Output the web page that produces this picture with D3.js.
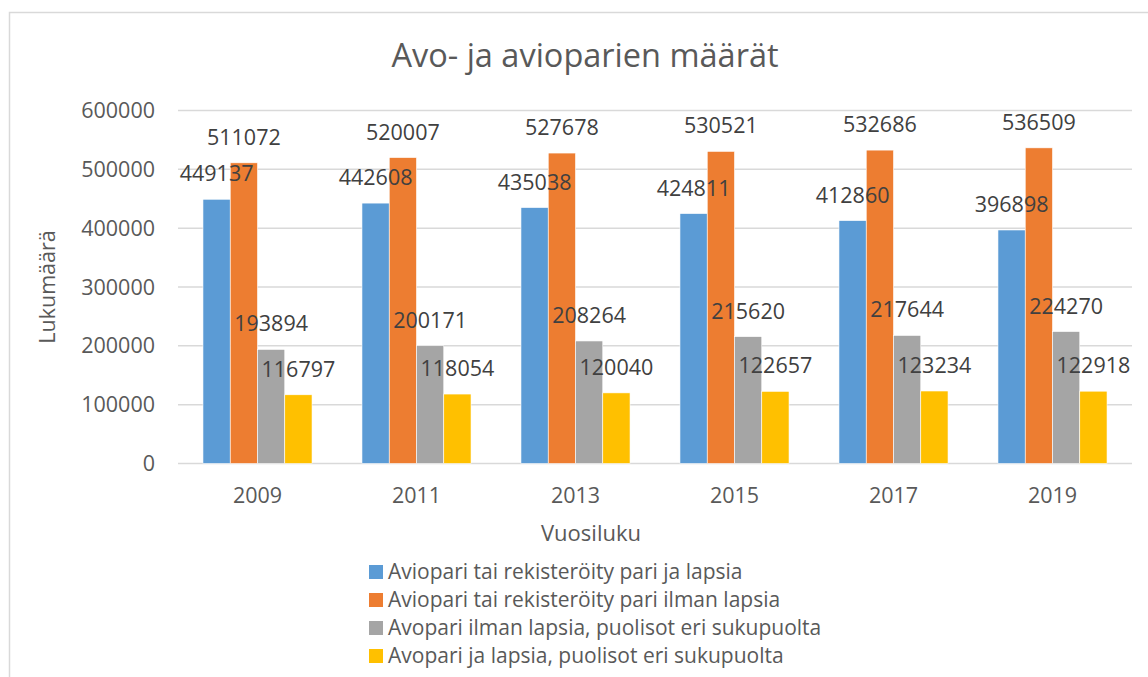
<!DOCTYPE html>
<html>
<head>
<meta charset="utf-8">
<script src="https://cdn.jsdelivr.net/npm/d3@7"></script>
<style>
	html, body { margin: 0; padding: 0; background: #fff; }
	svg { display: block; font-family: 'Open Sans', sans-serif; }
</style>
</head>
<body>
<svg id="chart"></svg>
<script>
// chart data
const years = [ '2009', '2011', '2013', '2015', '2017', '2019' ];
const seriesNames = [
	'Aviopari tai rekisteröity pari ja lapsia',
	'Aviopari tai rekisteröity pari ilman lapsia',
	'Avopari ilman lapsia, puolisot eri sukupuolta',
	'Avopari ja lapsia, puolisot eri sukupuolta',
];
const withKids = [ 449137, 442608, 435038, 424811, 412860, 396898 ];
const noKids = [ 511072, 520007, 527678, 530521, 532686, 536509 ];
const cohabNoKids = [ 193894, 200171, 208264, 215620, 217644, 224270 ];
const cohabKids = [ 116797, 118054, 120040, 122657, 123234, 122918 ];
const yTicks = [ 0, 100000, 200000, 300000, 400000, 500000, 600000 ];
const colors = [ '#5B9BD5', '#ED7D31', '#A5A5A5', '#FFC000' ];

const allSeries = [ withKids, noKids, cohabNoKids, cohabKids ];

const width = 1148;
const height = 677;
const margin = { top: 110.5, right: 16, bottom: 213.5, left: 178 };
const innerWidth = width - margin.left - margin.right;
const innerHeight = height - margin.top - margin.bottom;

const svg = d3.select( '#chart' )
	.attr( 'width', width )
	.attr( 'height', height );

// outer chart border (runs off the right and bottom edge)
svg.append( 'rect' )
	.attr( 'x', 9.5 )
	.attr( 'y', 12.5 )
	.attr( 'width', 1200 )
	.attr( 'height', 700 )
	.attr( 'fill', 'none' )
	.attr( 'stroke', '#D9D9D9' )
	.attr( 'stroke-width', 1.5 );

svg.append( 'text' )
	.attr( 'x', 585 )
	.attr( 'y', 67 )
	.attr( 'text-anchor', 'middle' )
	.attr( 'fill', '#595959' )
	.style( 'font-size', '32.5px' )
	.text( 'Avo- ja avioparien määrät' );

const g = svg.append( 'g' )
	.attr( 'transform', `translate(${ margin.left },${ margin.top })` );

const x0 = d3.scaleBand()
	.domain( years )
	.range( [ 0, innerWidth ] )
	.paddingInner( 0.314 )
	.paddingOuter( 0.157 );

const x1 = d3.scaleBand()
	.domain( d3.range( allSeries.length ) )
	.range( [ 0, x0.bandwidth() ] );

const y = d3.scaleLinear()
	.domain( [ 0, 600000 ] )
	.range( [ innerHeight, 0 ] );

// gridlines
g.selectAll( '.grid' )
	.data( yTicks )
	.join( 'line' )
	.attr( 'class', 'grid' )
	.attr( 'x1', 0 )
	.attr( 'x2', innerWidth )
	.attr( 'y1', ( d ) => y( d ) )
	.attr( 'y2', ( d ) => y( d ) )
	.attr( 'stroke', '#D9D9D9' )
	.attr( 'stroke-width', 1.5 );

// y tick labels
g.selectAll( '.ytick' )
	.data( yTicks )
	.join( 'text' )
	.attr( 'class', 'ytick' )
	.attr( 'x', -23 )
	.attr( 'y', ( d ) => y( d ) )
	.attr( 'dy', '0.35em' )
	.attr( 'text-anchor', 'end' )
	.attr( 'fill', '#595959' )
	.style( 'font-size', '21.5px' )
	.text( ( d ) => d );

// bars
const groups = g.selectAll( '.year' )
	.data( years )
	.join( 'g' )
	.attr( 'class', 'year' )
	.attr( 'transform', ( d ) => `translate(${ x0( d ) },0)` );

groups.selectAll( 'rect' )
	.data( ( d, i ) => allSeries.map( ( s, k ) => ( { k, value: s[ i ] } ) ) )
	.join( 'rect' )
	.attr( 'x', ( d ) => x1( d.k ) )
	.attr( 'y', ( d ) => y( d.value ) )
	.attr( 'width', x1.bandwidth() )
	.attr( 'height', ( d ) => innerHeight - y( d.value ) )
	.attr( 'fill', ( d ) => colors[ d.k ] )
	.attr( 'stroke', '#fff' )
	.attr( 'stroke-width', 0.6 );

// data labels
groups.selectAll( 'text' )
	.data( ( d, i ) => allSeries.map( ( s, k ) => ( { k, value: s[ i ] } ) ) )
	.join( 'text' )
	.attr( 'x', ( d ) => x1( d.k ) + x1.bandwidth() / 2 )
	.attr( 'y', ( d ) => y( d.value ) - 18 )
	.attr( 'text-anchor', 'middle' )
	.attr( 'fill', '#404040' )
	.style( 'font-size', '21.5px' )
	.text( ( d ) => d.value );

// x labels
g.selectAll( '.xtick' )
	.data( years )
	.join( 'text' )
	.attr( 'class', 'xtick' )
	.attr( 'x', ( d ) => x0( d ) + x0.bandwidth() / 2 )
	.attr( 'y', innerHeight + 39.5 )
	.attr( 'text-anchor', 'middle' )
	.attr( 'fill', '#595959' )
	.style( 'font-size', '21.5px' )
	.text( ( d ) => d );

// axis titles
svg.append( 'text' )
	.attr( 'x', 591 )
	.attr( 'y', 541 )
	.attr( 'text-anchor', 'middle' )
	.attr( 'fill', '#595959' )
	.style( 'font-size', '22px' )
	.text( 'Vuosiluku' );

svg.append( 'text' )
	.attr( 'transform', `translate(55,${ margin.top + innerHeight / 2 }) rotate(-90)` )
	.attr( 'text-anchor', 'middle' )
	.attr( 'fill', '#595959' )
	.style( 'font-size', '21.5px' )
	.text( 'Lukumäärä' );

// legend
const legend = svg.append( 'g' )
	.attr( 'transform', 'translate(369,572)' );

const items = legend.selectAll( 'g' )
	.data( seriesNames )
	.join( 'g' )
	.attr( 'transform', ( d, i ) => `translate(0,${ i * 28 })` );

items.append( 'rect' )
	.attr( 'x', 0 )
	.attr( 'y', -7 )
	.attr( 'width', 14 )
	.attr( 'height', 14 )
	.attr( 'fill', ( d, i ) => colors[ i ] );

items.append( 'text' )
	.attr( 'x', 19 )
	.attr( 'dy', '0.35em' )
	.attr( 'fill', '#595959' )
	.style( 'font-size', '21px' )
	.text( ( d ) => d );
</script>
</body>
</html>
